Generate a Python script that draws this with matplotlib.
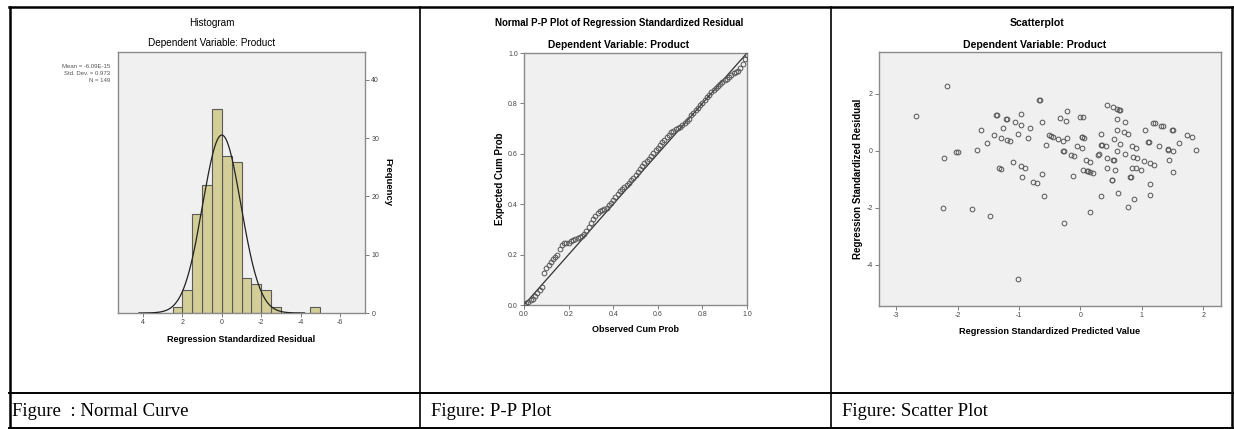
import numpy as np
import matplotlib
matplotlib.use('Agg')
import matplotlib.pyplot as plt
from matplotlib.lines import Line2D
from matplotlib.ticker import FormatStrFormatter

plt.rcParams['axes.unicode_minus'] = False

# ---------------- data ----------------
# Histogram of regression standardized residuals (bin left edges, width 0.5)
hist_bin_left = [-5.0, -3.0, -2.5, -2.0, -1.5, -1.0, -0.5, 0.0, 0.5, 1.0, 1.5, 2.0]
hist_counts = [1, 1, 4, 5, 6, 26, 27, 35, 22, 17, 4, 1]
hist_mean = 0.0
hist_sd = 0.973
hist_n = 149
hist_stats = ["Mean = -6.09E-15", "Std. Dev. = 0.973", "N = 149"]
hist_xticks = [-6, -4, -2, 0, 2, 4]
hist_yticks = [0, 10, 20, 30, 40]

# Normal P-P plot
pp_observed = [0.00, 0.01, 0.02, 0.03, 0.04, 0.05, 0.06, 0.07, 0.08, 0.09,
               0.10, 0.11, 0.12, 0.13, 0.14, 0.15, 0.16, 0.17, 0.18, 0.19,
               0.20, 0.21, 0.22, 0.23, 0.24, 0.25, 0.26, 0.27, 0.28, 0.29,
               0.30, 0.31, 0.32, 0.33, 0.34, 0.35, 0.36, 0.37, 0.38, 0.39,
               0.40, 0.41, 0.42, 0.43, 0.44, 0.45, 0.46, 0.47, 0.48, 0.49,
               0.50, 0.51, 0.52, 0.53, 0.54, 0.55, 0.56, 0.57, 0.58, 0.59,
               0.60, 0.61, 0.62, 0.63, 0.64, 0.65, 0.66, 0.67, 0.68, 0.69,
               0.70, 0.71, 0.72, 0.73, 0.74, 0.75, 0.76, 0.77, 0.78, 0.79,
               0.80, 0.81, 0.82, 0.83, 0.84, 0.85, 0.86, 0.87, 0.88, 0.89,
               0.90, 0.91, 0.92, 0.93, 0.94, 0.95, 0.96, 0.97, 0.98, 0.99, 1.00]
pp_expected = [0.003, 0.008, 0.012, 0.018, 0.025, 0.035, 0.048, 0.060, 0.072, 0.128,
               0.145, 0.158, 0.172, 0.184, 0.190, 0.200, 0.222, 0.238, 0.245, 0.246,
               0.248, 0.252, 0.258, 0.262, 0.265, 0.268, 0.272, 0.280, 0.295, 0.310,
               0.325, 0.340, 0.355, 0.365, 0.372, 0.376, 0.380, 0.385, 0.395, 0.405,
               0.418, 0.430, 0.440, 0.452, 0.460, 0.468, 0.476, 0.485, 0.495, 0.505,
               0.515, 0.528, 0.540, 0.552, 0.562, 0.570, 0.580, 0.592, 0.605, 0.615,
               0.625, 0.635, 0.645, 0.655, 0.665, 0.675, 0.685, 0.692, 0.698, 0.703,
               0.708, 0.715, 0.722, 0.730, 0.740, 0.752, 0.762, 0.772, 0.782, 0.792,
               0.802, 0.812, 0.825, 0.835, 0.845, 0.852, 0.860, 0.868, 0.876, 0.884,
               0.892, 0.898, 0.904, 0.912, 0.920, 0.926, 0.930, 0.940, 0.955, 0.975, 0.993]
pp_ticks = [0.0, 0.2, 0.4, 0.6, 0.8, 1.0]

# Scatterplot: standardized predicted value vs standardized residual
sc_pred = [-2.68, -2.18, -2.22, -2.02, -2.00, -1.68, -1.62, -1.52, -1.40, -1.37,
           -1.36, -1.32, -1.30, -1.29, -1.26, -1.21, -1.20, -1.19, -1.14, -1.10,
           -1.07, -1.01, -0.97, -0.97, -0.91, -0.96, -0.95, -0.86, -0.82, -0.77,
           -0.71, -0.67, -0.66, -0.63, -0.63, -0.59, -0.56, -0.51, -0.48, -0.44,
           -0.36, -0.29, -0.34, -0.28, -0.27, -0.24, -0.22, -0.21, -0.15, -0.10,
           -0.12, -0.05, 0.00, 0.05, 0.02, 0.03, 0.06, 0.02, 0.04, 0.11,
           0.12, 0.15, 0.09, 0.16, 0.20, 0.29, 0.31, 0.33, 0.34, 0.33,
           0.35, 0.41, 0.43, 0.44, 0.44, 0.51, 0.52, 0.53, 0.60, 0.63,
           0.64, 0.53, 0.55, 0.54, 0.56, 0.59, 0.60, 0.59, 0.61, 0.64,
           0.71, 0.78, 0.73, 0.73, 0.77, 0.80, 0.82, 0.84, 0.91, 0.86,
           0.92, 0.84, 0.91, 0.87, 0.98, 1.04, 1.05, 1.10, 1.12, 1.14,
           1.20, 1.13, 1.13, 1.19, 1.21, 1.28, 1.32, 1.35, 1.42, 1.43,
           1.44, 1.50, 1.51, 1.51, 1.51, 1.60, 1.73, 1.81, 1.89, -2.24,
           -1.76, -1.47, -1.02, -0.27, 0.15]
sc_resid = [1.24, 2.29, -0.24, -0.03, -0.05, 0.04, 0.74, 0.28, 0.54, 1.26,
            1.25, -0.62, -0.64, 0.46, 0.80, 1.12, 1.11, 0.38, 0.34, -0.41,
            1.00, 0.60, 1.31, -0.55, -0.61, 0.92, -0.93, 0.46, 0.80, -1.08,
            -1.13, 1.79, 1.78, -0.82, 1.01, -1.58, 0.21, 0.54, 0.52, 0.48,
            0.41, 0.35, 1.14, -0.01, 0.00, 1.06, 0.45, 1.40, -0.13, -0.18,
            -0.89, 0.16, 1.18, 1.18, 0.47, 0.48, 0.45, 0.09, -0.66, -0.71,
            -0.72, -0.76, -0.32, -0.38, -0.79, -0.13, -0.12, 0.59, -1.60, 0.22,
            0.21, 0.18, 1.61, -0.24, -0.61, -1.03, -1.04, 1.53, 1.48, 1.45,
            1.45, -0.32, -0.32, 0.41, -0.68, 1.11, 0.74, 0.00, -1.47, 0.25,
            0.66, 0.60, 1.00, -0.12, -1.99, -0.91, -0.92, 0.16, 0.09, -0.20,
            -0.26, -0.59, -0.62, -1.68, -0.68, -0.36, 0.74, 0.31, 0.30, -0.44,
            -0.49, -1.18, -1.54, 0.98, 0.97, 0.16, 0.88, 0.87, 0.05, 0.04,
            -0.33, 0.73, 0.72, -0.02, -0.75, 0.28, 0.54, 0.47, 0.04, -2.02,
            -2.06, -2.29, -4.49, -2.55, -2.16]
sc_xticks = [-3, -2, -1, 0, 1, 2]
sc_yticks = [-4, -2, 0, 2]

captions = ["Figure  : Normal Curve", "Figure: P-P Plot", "Figure: Scatter Plot"]

# ---------------- layout helpers ----------------
W, H = 1234, 429
fig = plt.figure(figsize=(W / 100, H / 100), dpi=100)
fig.patch.set_facecolor('white')

SANS = 'Liberation Sans'
SERIF = 'Liberation Serif'


def fx(x):
    return x / W


def fy(y):
    return 1 - y / H


def rect(x0, y0, x1, y1):
    return [x0 / W, 1 - y1 / H, (x1 - x0) / W, (y1 - y0) / H]


def spss_style(ax):
    ax.set_facecolor('#F0F0F0')
    for sp in ax.spines.values():
        sp.set_color('#8A8A8A')
        sp.set_linewidth(1.0)
    ax.tick_params(length=3, width=0.6, color='#666666', labelsize=5,
                   labelcolor='#444444', pad=1.5)
    for lab in ax.get_xticklabels() + ax.get_yticklabels():
        lab.set_family(SANS)


def ftext(x, y, s, **kw):
    kw.setdefault('family', SANS)
    fig.text(fx(x), fy(y), s, **kw)


# ---------------- table lines ----------------
def hline(y, x0, x1, lw=1.6):
    fig.add_artist(Line2D([fx(x0), fx(x1)], [fy(y), fy(y)], color='black',
                          lw=lw, transform=fig.transFigure))


def vline(x, y0, y1, lw=1.6):
    fig.add_artist(Line2D([fx(x), fx(x)], [fy(y0), fy(y1)], color='black',
                          lw=lw, transform=fig.transFigure))


hline(7, 9, 1233, lw=1.8)
hline(393, 9, 1233, lw=1.4)
hline(428, 9, 1233, lw=1.4)
vline(10, 7, 429, lw=1.8)
vline(420, 7, 429, lw=1.2)
vline(831, 7, 429, lw=1.2)
vline(1232, 7, 429, lw=1.8)

# ---------------- panel 1: histogram (mirrored layout) ----------------
ax1 = fig.add_axes(rect(118, 52, 365, 313))
spss_style(ax1)
ax1.bar(hist_bin_left, hist_counts, width=0.5, align='edge',
        color='#D3CE97', edgecolor='#5A5A5A', linewidth=0.8, zorder=2)
xc = np.linspace(-4.2, 4.2, 400)
yc = hist_n * 0.5 / (hist_sd * np.sqrt(2 * np.pi)) * np.exp(-0.5 * ((xc - hist_mean) / hist_sd) ** 2)
ax1.plot(xc, yc, color='#222222', lw=0.9, zorder=3)
ax1.set_xlim(5.27, -7.27)
ax1.set_ylim(0, 44.8)
ax1.set_xticks(hist_xticks)
ax1.set_yticks(hist_yticks)
ax1.yaxis.tick_right()
ax1.xaxis.set_major_formatter(FormatStrFormatter('%d'))
spss_style(ax1)
ftext(212, 23, "Histogram", ha='center', va='center', fontsize=7.2)
ftext(212, 43, "Dependent Variable: Product", ha='center', va='center', fontsize=7.2)
ftext(241, 340, "Regression Standardized Residual", ha='center', va='center',
      fontsize=6.5, weight='bold')
ftext(388, 182, "Frequency", ha='center', va='center', fontsize=6.8,
      weight='bold', rotation=-90)
for i, s in enumerate(hist_stats):
    ftext(110, 67 + 6.5 * i, s, ha='right', va='center', fontsize=4.3, color='#555555')

# ---------------- panel 2: P-P plot ----------------
ax2 = fig.add_axes(rect(524, 53, 747, 305))
spss_style(ax2)
ax2.plot([0, 1], [0, 1], color='#333333', lw=0.9, zorder=2)
ax2.plot(pp_observed, pp_expected, 'o', ms=3.4, mfc='none', mec='#555555',
         mew=0.7, zorder=3)
ax2.set_xlim(0, 1)
ax2.set_ylim(0, 1)
ax2.set_xticks(pp_ticks)
ax2.set_yticks(pp_ticks)
ax2.xaxis.set_major_formatter(FormatStrFormatter('%.1f'))
ax2.yaxis.set_major_formatter(FormatStrFormatter('%.1f'))
spss_style(ax2)
ftext(619, 23, "Normal P-P Plot of Regression Standardized Residual",
      ha='center', va='center', fontsize=7.0, weight='bold')
ftext(619, 45, "Dependent Variable: Product", ha='center', va='center',
      fontsize=7.4, weight='bold')
ftext(635, 330, "Observed Cum Prob", ha='center', va='center', fontsize=6.5,
      weight='bold')
ftext(500, 179, "Expected Cum Prob", ha='center', va='center', fontsize=7,
      weight='bold', rotation=90)

# ---------------- panel 3: scatterplot ----------------
ax3 = fig.add_axes(rect(879, 52, 1221, 306))
spss_style(ax3)
ax3.plot(sc_pred, sc_resid, 'o', ms=3.4, mfc='none', mec='#555555',
         mew=0.7, zorder=3)
ax3.set_xlim(-3.28, 2.29)
ax3.set_ylim(-5.45, 3.47)
ax3.set_xticks(sc_xticks)
ax3.set_yticks(sc_yticks)
ax3.xaxis.set_major_formatter(FormatStrFormatter('%d'))
ax3.yaxis.set_major_formatter(FormatStrFormatter('%d'))
spss_style(ax3)
ftext(1037, 23, "Scatterplot", ha='center', va='center', fontsize=7.6,
      weight='bold')
ftext(1035, 45, "Dependent Variable: Product", ha='center', va='center',
      fontsize=7.6, weight='bold')
ftext(1050, 331, "Regression Standardized Predicted Value", ha='center',
      va='center', fontsize=6.6, weight='bold')
ftext(858, 179, "Regression Standardized Residual", ha='center', va='center',
      fontsize=7, weight='bold', rotation=90)

# ---------------- captions ----------------
for x, s in zip([12, 431, 842], captions):
    ftext(x, 411, s, ha='left', va='center', fontsize=13.5, family=SERIF)

fig.savefig('out.png', dpi=100, facecolor='white')
